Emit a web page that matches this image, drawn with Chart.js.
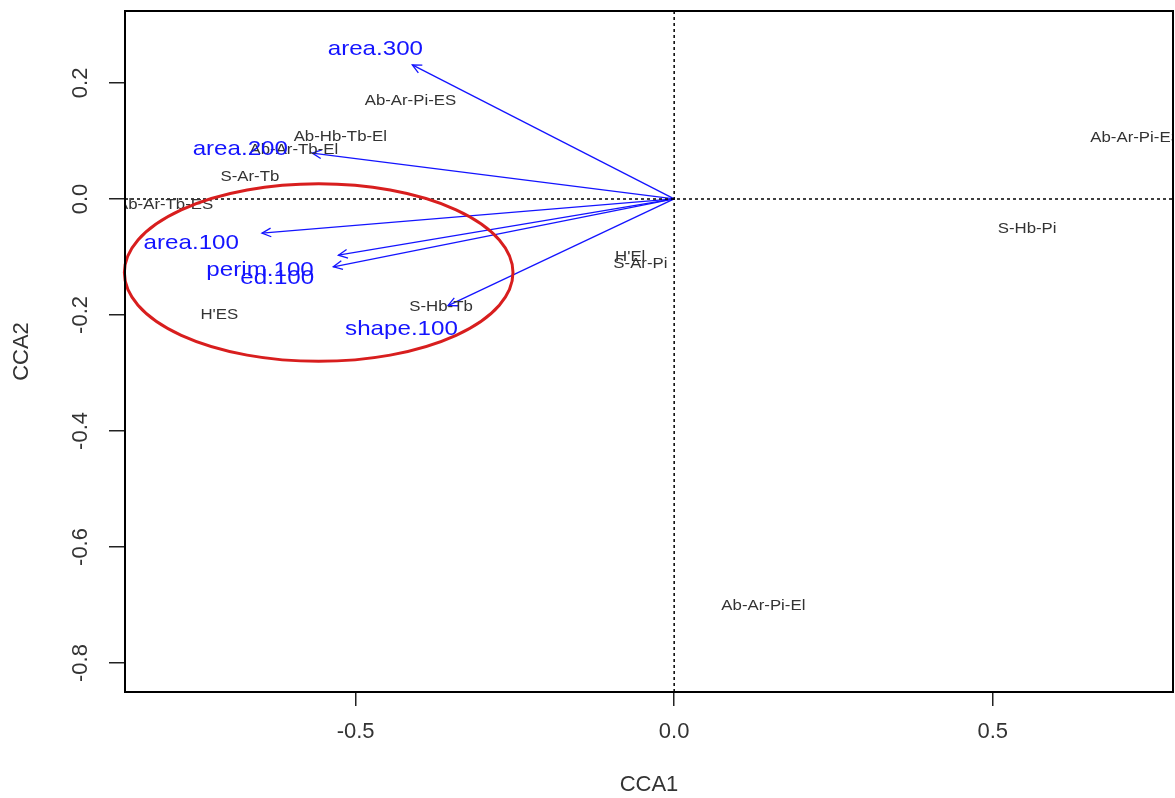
<!DOCTYPE html>
<html>
<head>
<meta charset="utf-8">
<script src="https://cdn.jsdelivr.net/npm/chart.js"></script>
<style>
body { margin: 0; background: #fff; }
#wrap { width: 1175px; height: 798px; }
</style>
</head>
<body>
<div id="wrap"><canvas id="myChart"></canvas></div>
<script>
// axis range and tick labels
var xMin = -0.862, xMax = 0.783;
var yMin = -0.850, yMax = 0.324;
var xTicks = [-0.5, 0, 0.5];
var yTicks = [-0.8, -0.6, -0.4, -0.2, 0, 0.2];

// site scores, drawn as text
var siteNames = ['Ab-Ar-Pi-ES', 'Ab-Hb-Tb-El', 'Ab-Ar-Tb-El', 'S-Ar-Tb', 'Ab-Ar-Tb-ES', "H'ES",
                 'S-Hb-Tb', "H'El", 'S-Ar-Pi', 'S-Hb-Pi', 'Ab-Ar-Pi-ES', 'Ab-Ar-Pi-El'];
var siteX = [-0.414, -0.524, -0.597, -0.666, -0.799, -0.714, -0.366, -0.069, -0.053, 0.554, 0.725, 0.140];
var siteY = [0.169, 0.107, 0.084, 0.038, -0.010, -0.200, -0.186, -0.100, -0.112, -0.052, 0.105, -0.702];

// biplot arrows (tips) for the landscape metrics
var envNames = ['area.300', 'area.200', 'area.100', 'perim.100', 'ed.100', 'shape.100'];
var envX = [-0.411, -0.568, -0.647, -0.527, -0.535, -0.355];
var envY = [0.231, 0.079, -0.059, -0.097, -0.117, -0.184];
var envLabelX = [-0.469, -0.681, -0.758, -0.650, -0.623, -0.428];
var envLabelY = [0.259, 0.086, -0.076, -0.122, -0.136, -0.224];

// red ring drawn round the 100 m metrics
var ringCenter = [-0.558, -0.127];
var ringRadius = [0.305, 0.153];

var blue = '#1414ff';

function fmt(v) {
    return Math.abs(v) < 1e-9 ? '0.0' : v.toFixed(1);
}

function drawText(ctx, text, px, py, font, color, stretch) {
    ctx.save();
    ctx.translate(px, py);
    ctx.scale(stretch, 1);
    ctx.font = font;
    ctx.fillStyle = color;
    ctx.textAlign = 'center';
    ctx.textBaseline = 'middle';
    ctx.fillText(text, 0, 0);
    ctx.restore();
}

var datasets = [];
datasets.push({
    data: [{x: 0, y: yMin}, {x: 0, y: yMax}],
    showLine: true, borderColor: '#000', borderWidth: 1.5, borderDash: [3, 3], pointRadius: 0
});
datasets.push({
    data: [{x: xMin, y: 0}, {x: xMax, y: 0}],
    showLine: true, borderColor: '#000', borderWidth: 1.5, borderDash: [3, 3], pointRadius: 0
});
var arrowStart = datasets.length;
envNames.forEach(function(n, i) {
    datasets.push({
        label: n,
        data: [{x: 0, y: 0}, {x: envX[i], y: envY[i]}],
        showLine: true, borderColor: blue, borderWidth: 1.3, pointRadius: 0
    });
});
var siteIndex = datasets.length;
datasets.push({
    label: 'sites',
    data: siteNames.map(function(n, i) { return {x: siteX[i], y: siteY[i]}; }),
    pointRadius: 0
});
var envLabelIndex = datasets.length;
datasets.push({
    label: 'env labels',
    data: envNames.map(function(n, i) { return {x: envLabelX[i], y: envLabelY[i]}; }),
    pointRadius: 0
});

var ordination = {
    id: 'ordination',
    afterDatasetsDraw: function(chart) {
        var ctx = chart.ctx;
        var area = chart.chartArea;
        var xs = chart.scales.x, ys = chart.scales.y;
        ctx.save();
        ctx.beginPath();
        ctx.rect(area.left, area.top, area.right - area.left, area.bottom - area.top);
        ctx.clip();

        // arrow heads
        envNames.forEach(function(n, i) {
            var pts = chart.getDatasetMeta(arrowStart + i).data;
            var a = pts[0], b = pts[1];
            var ang = Math.atan2(b.y - a.y, b.x - a.x);
            var len = 10, spread = 0.45;
            ctx.beginPath();
            ctx.moveTo(b.x - len * Math.cos(ang - spread), b.y - len * Math.sin(ang - spread));
            ctx.lineTo(b.x, b.y);
            ctx.lineTo(b.x - len * Math.cos(ang + spread), b.y - len * Math.sin(ang + spread));
            ctx.strokeStyle = blue;
            ctx.lineWidth = 1.3;
            ctx.stroke();
        });

        // site labels
        chart.getDatasetMeta(siteIndex).data.forEach(function(p, i) {
            drawText(ctx, siteNames[i], p.x, p.y, '14px "Liberation Sans", Arial, sans-serif', '#333', 1.2);
        });

        // metric labels
        chart.getDatasetMeta(envLabelIndex).data.forEach(function(p, i) {
            drawText(ctx, envNames[i], p.x, p.y, '21px "Liberation Sans", Arial, sans-serif', blue, 1.15);
        });
        ctx.restore();

        // red ring
        var cx = xs.getPixelForValue(ringCenter[0]);
        var cy = ys.getPixelForValue(ringCenter[1]);
        var rx = Math.abs(xs.getPixelForValue(ringCenter[0] + ringRadius[0]) - cx);
        var ry = Math.abs(ys.getPixelForValue(ringCenter[1] + ringRadius[1]) - cy);
        ctx.save();
        ctx.beginPath();
        ctx.ellipse(cx, cy, rx, ry, 0, 0, Math.PI * 2);
        ctx.strokeStyle = '#d81e1e';
        ctx.lineWidth = 3;
        ctx.stroke();
        ctx.restore();
    },
    afterDraw: function(chart) {
        var ctx = chart.ctx;
        var area = chart.chartArea;
        ctx.save();
        ctx.strokeStyle = '#000';
        ctx.lineWidth = 2;
        ctx.strokeRect(area.left, area.top, area.right - area.left, area.bottom - area.top);
        ctx.restore();
    }
};

var tickFont = {family: '"Liberation Sans", Arial, sans-serif', size: 22};

const ctx = document.getElementById('myChart');

new Chart(ctx, {
    type: 'scatter',
    data: { datasets: datasets },
    options: {
        responsive: true,
        maintainAspectRatio: false,
        animation: false,
        layout: { padding: { top: 11, right: 2, left: 0, bottom: 0 } },
        plugins: {
            legend: { display: false },
            tooltip: { enabled: false }
        },
        scales: {
            x: {
                type: 'linear',
                min: xMin,
                max: xMax,
                afterBuildTicks: function(s) { s.ticks = xTicks.map(function(v) { return {value: v}; }); },
                afterFit: function(s) { s.height = 106; s.paddingLeft = 0; s.paddingRight = 0; },
                ticks: { callback: fmt, font: tickFont, color: '#333', padding: 13, maxRotation: 0 },
                grid: { drawOnChartArea: false, drawTicks: true, tickLength: 14, color: '#222', lineWidth: 1.5 },
                border: { display: false },
                title: { display: true, text: 'CCA1', font: tickFont, color: '#333', padding: { top: 0, bottom: 0 } }
            },
            y: {
                type: 'linear',
                min: yMin,
                max: yMax,
                afterBuildTicks: function(s) { s.ticks = yTicks.map(function(v) { return {value: v}; }); },
                afterFit: function(s) { s.width = 125; s.paddingTop = 0; s.paddingBottom = 0; },
                ticks: { callback: fmt, font: tickFont, color: '#333', padding: 9, minRotation: 90, maxRotation: 90, crossAlign: 'center' },
                grid: { drawOnChartArea: false, drawTicks: true, tickLength: 16, color: '#222', lineWidth: 1.5 },
                border: { display: false },
                title: { display: true, text: 'CCA2', font: tickFont, color: '#333', padding: { top: 9, bottom: 0 } }
            }
        }
    },
    plugins: [ordination]
});
</script>
</body>
</html>
